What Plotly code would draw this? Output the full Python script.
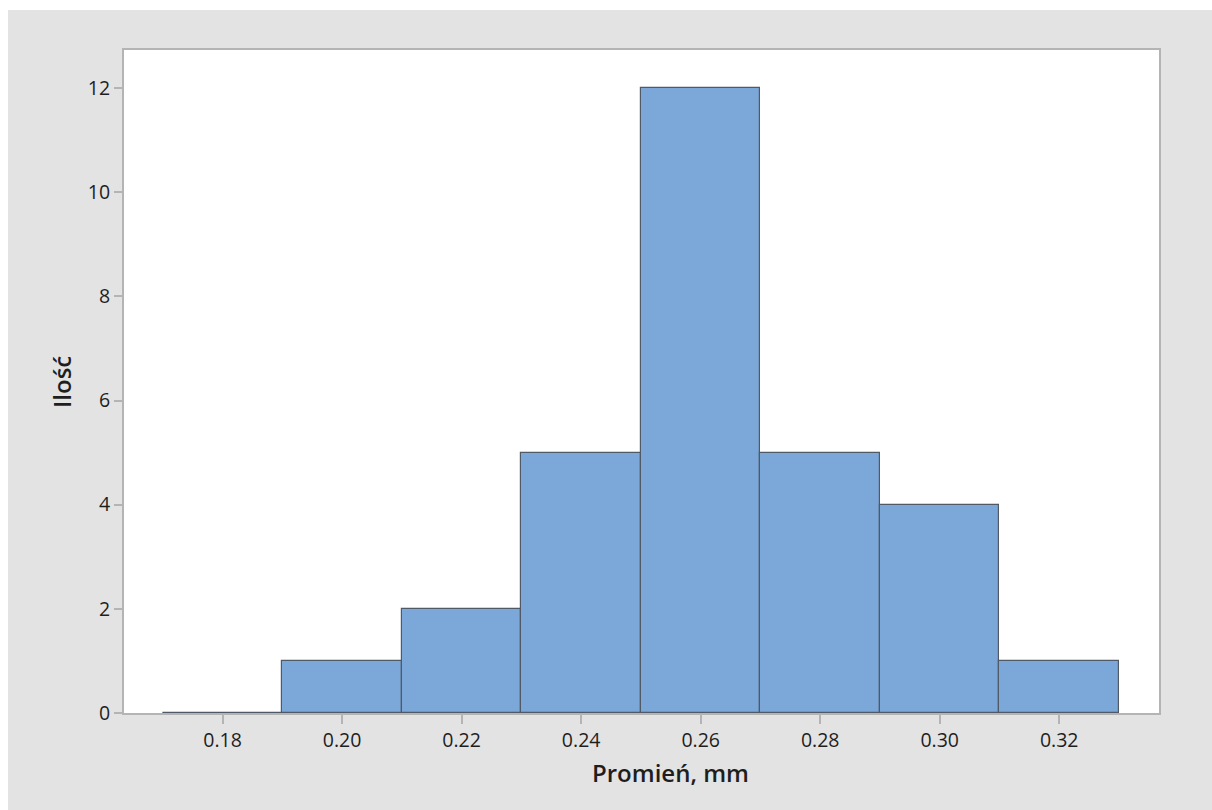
import plotly.graph_objects as go

# Data: histogram bins (left edges) and counts
bin_left = [0.17, 0.19, 0.21, 0.23, 0.25, 0.27, 0.29, 0.31]
bin_width = 0.02
counts = [0, 1, 2, 5, 12, 5, 4, 1]
x_ticks = [0.18, 0.20, 0.22, 0.24, 0.26, 0.28, 0.30, 0.32]
y_ticks = [0, 2, 4, 6, 8, 10, 12]
x_title = "Promień, mm"
y_title = "Ilość"

centers = [b + bin_width / 2 for b in bin_left]

BAR_COLOR = "#7BA7D9"
EDGE_COLOR = "#4F5A66"
BG_GRAY = "#E3E3E3"
AXIS_GRAY = "#B4B4B4"
TEXT = "#1E1E1E"
FONT = "Open Sans"

W, H = 1212, 810
ML, MR, MT, MB = 124, W - 1159, 50, H - 713
pw, ph = W - ML - MR, H - MT - MB

fig = go.Figure()
fig.add_trace(go.Bar(
    x=centers, y=counts, width=[bin_width] * len(counts),
    marker=dict(color=BAR_COLOR, line=dict(color=EDGE_COLOR, width=1.2)),
    hoverinfo="x+y", showlegend=False,
))

# zero-count bins drawn as a flat line at zero
for c, n in zip(bin_left, counts):
    if n == 0:
        fig.add_trace(go.Scatter(
            x=[c, c + bin_width], y=[n, n], mode="lines",
            line=dict(color=EDGE_COLOR, width=1.5), showlegend=False, hoverinfo="skip",
        ))

fig.update_layout(
    width=W, height=H,
    margin=dict(l=ML, r=MR, t=MT, b=MB, pad=0),
    paper_bgcolor="white",
    plot_bgcolor="white",
    bargap=0,
    font=dict(family=FONT, color=TEXT, size=19),
    shapes=[
        dict(type="rect", xref="paper", yref="paper", layer="below",
             x0=(8 - ML) / pw, x1=(W - ML) / pw,
             y0=-(MB) / ph, y1=(H - MB - 10) / ph,
             fillcolor=BG_GRAY, line=dict(width=0)),
        dict(type="rect", xref="paper", yref="paper", layer="below",
             x0=0, x1=1, y0=0, y1=1,
             fillcolor="white", line=dict(width=0)),
    ],
    annotations=[
        dict(text=x_title, xref="paper", yref="paper",
             x=(670 - ML) / pw, y=-(773 - (MT + ph)) / ph,
             xanchor="center", yanchor="middle", showarrow=False,
             font=dict(size=24, family=FONT, color=TEXT, weight=600)),
        dict(text=y_title, xref="paper", yref="paper", textangle=-90,
             x=(61 - ML) / pw, y=((MT + ph) - 382) / ph,
             xanchor="center", yanchor="middle", showarrow=False,
             font=dict(size=24, family=FONT, color=TEXT, weight=600)),
    ],
)

fig.update_xaxes(
    range=[0.1635, 0.3367], tickvals=x_ticks, tickformat=".2f",
    ticks="outside", ticklen=9, tickwidth=1.5, tickcolor=AXIS_GRAY,
    showline=True, linecolor=AXIS_GRAY, linewidth=2, mirror=True,
    showgrid=False, zeroline=False,
    tickfont=dict(size=19.5, family=FONT, color=TEXT),
)
fig.update_yaxes(
    range=[0, 12.73], tickvals=y_ticks,
    ticks="outside", ticklen=8, tickwidth=1.5, tickcolor=AXIS_GRAY,
    showline=True, linecolor=AXIS_GRAY, linewidth=2, mirror=True,
    showgrid=False, zeroline=False,
    tickfont=dict(size=19.5, family=FONT, color=TEXT),
)

fig.write_html("out.html")
